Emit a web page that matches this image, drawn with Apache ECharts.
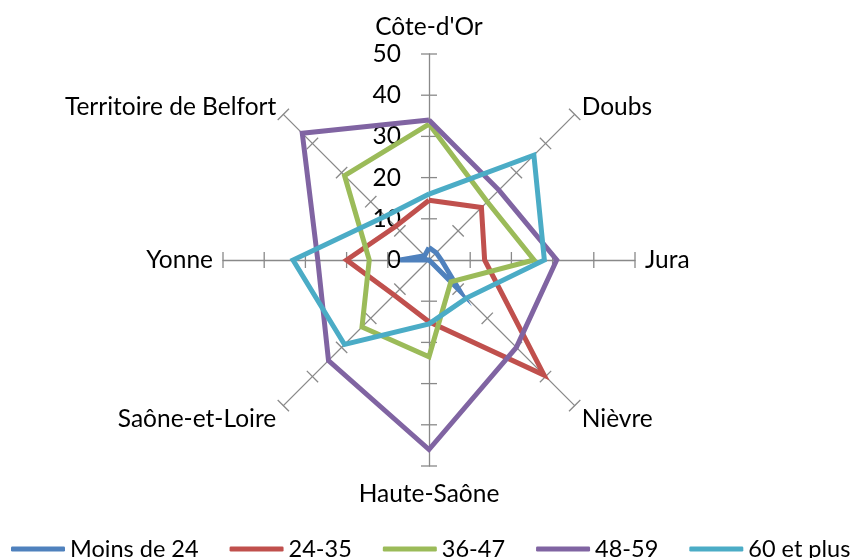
<!DOCTYPE html>
<html>
<head>
<meta charset="utf-8">
<script src="https://cdn.jsdelivr.net/npm/echarts@6/dist/echarts.min.js"></script>
<style>
  html, body { margin: 0; padding: 0; background: #fff; }
  #chart { width: 856px; height: 558px; }
</style>
</head>
<body>
<div id="chart"></div>
<script>
// Départements, listed clockwise from the top spoke
const categories = ['Côte-d\'Or', 'Doubs', 'Jura', 'Nièvre', 'Haute-Saône', 'Saône-et-Loire', 'Yonne', 'Territoire de Belfort'];

// Age groups and their values per département (same order as categories)
const seriesNames = ['Moins de 24', '24-35', '36-47', '48-59', '60 et plus'];
const moinsDe24 = [3, 2.5, 3, 10.5, 0, 0, 7, 1.5];
const age24a35 = [14.5, 18, 13.5, 39.5, 15, 12, 20, 11.5];
const age36a47 = [33, 20, 25.5, 7.5, 23.5, 23, 14.5, 29];
const age48a59 = [34, 24, 31, 30, 46, 34.5, 27, 43.5];
const age60Plus = [16, 36, 28, 13, 15.5, 29, 33, 15];

const axisMax = 50;
const axisSplits = 5;

const colors = ['#4F81BD', '#C0504D', '#9BBB59', '#8064A2', '#4BACC6'];
const AXIS_GRAY = '#898989';
const FONT = 'Lato';
const FS = 24.5;
const LEGEND_FS = 23.5;
const LINE_W = 5;

// ECharts lays radar spokes counter-clockwise; reorder so the départements run clockwise
const order = [0, 7, 6, 5, 4, 3, 2, 1];
const reorder = arr => order.map(i => arr[i]);

const lowerDiag = ['Nièvre', 'Saône-et-Loire'];
const indicators = reorder(categories).map((name, i) => ({
  name: name,
  min: 0,
  max: axisMax,
  axisLabel: { show: i === 0 }   // value labels only on the top spoke
}));

const groups = [moinsDe24, age24a35, age36a47, age48a59, age60Plus];

const chart = echarts.init(document.getElementById('chart'), null, { renderer: 'canvas' });
chart.setOption({
  animation: false,
  color: colors,
  textStyle: { fontFamily: FONT },
  legend: {
    data: seriesNames,
    left: 11,
    top: 537,
    width: 850,
    padding: 0,
    icon: 'roundRect',
    itemWidth: 54,
    itemHeight: 5,
    itemGap: 31,
    textStyle: { fontFamily: FONT, fontSize: LEGEND_FS, color: '#000' }
  },
  radar: {
    center: [429, 260],
    radius: 206,
    startAngle: 90,
    splitNumber: axisSplits,
    shape: 'polygon',
    indicator: indicators,
    nameGap: 10,
    axisName: {
      color: '#000',
      fontFamily: FONT,
      fontSize: FS,
      formatter: function (name) {
        if (lowerDiag.indexOf(name) >= 0) return '{low|' + name + '}';
        if (name === 'Côte-d\'Or') return '{top|' + name + '}';
        if (name === 'Haute-Saône') return '{bot|' + name + '}';
        return name;
      },
      rich: {
        low: { fontFamily: FONT, fontSize: FS, color: '#000', padding: [13, 0, 0, 0] },
        top: { fontFamily: FONT, fontSize: FS, color: '#000', padding: [0, 0, 4, 0] },
        bot: { fontFamily: FONT, fontSize: FS, color: '#000', padding: [6, 0, 0, 0] }
      }
    },
    axisLine: { show: true, lineStyle: { color: AXIS_GRAY, width: 1.3 } },
    axisTick: { show: false },
    axisLabel: { show: false, margin: 28, color: '#000', fontFamily: FONT, fontSize: FS },
    splitLine: { show: false },
    splitArea: { show: false }
  },
  series: groups.map((vals, k) => ({
    type: 'radar',
    name: seriesNames[k],
    symbol: 'none',
    z: 3,
    lineStyle: { width: LINE_W, color: colors[k], join: 'miter' },
    itemStyle: { color: colors[k] },
    data: [{
      name: seriesNames[k],
      value: reorder(vals),
      lineStyle: { width: LINE_W, color: colors[k], join: 'miter' }
    }]
  }))
});

// Cross-shaped tick marks on every spoke, placed with the radar's own axis scales
const radarCS = chart.getModel().getComponent('radar', 0).coordinateSystem;
const tickMarks = [];
const half = 8;
radarCS.getIndicatorAxes().forEach((axis, i) => {
  const origin = radarCS.dataToPoint(0, i);
  axis.scale.getTicks().forEach(t => {
    const v = t.value;
    if (v <= 0) return;
    const p = radarCS.dataToPoint(v, i);
    const dx = p[0] - origin[0], dy = p[1] - origin[1];
    const len = Math.sqrt(dx * dx + dy * dy);
    const nx = -dy / len, ny = dx / len;
    tickMarks.push({
      type: 'line',
      silent: true,
      z: 1,
      shape: { x1: p[0] - nx * half, y1: p[1] - ny * half, x2: p[0] + nx * half, y2: p[1] + ny * half },
      style: { stroke: AXIS_GRAY, lineWidth: 1.3 }
    });
  });
});
chart.setOption({ graphic: tickMarks });
</script>
</body>
</html>
